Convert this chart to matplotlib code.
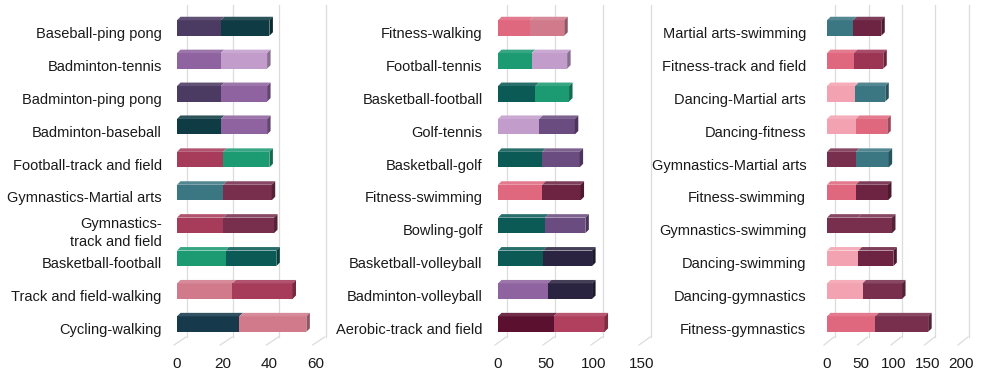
import matplotlib
matplotlib.use("Agg")
import matplotlib.pyplot as plt
from matplotlib.patches import Polygon
import matplotlib.transforms as mtransforms
from matplotlib.colors import to_rgb

plt.rcParams['font.family'] = ['Liberation Sans', 'DejaVu Sans']

# ---------------- data ----------------
cats1 = ["Baseball-ping pong", "Badminton-tennis", "Badminton-ping pong", "Badminton-baseball",
         "Football-track and field", "Gymnastics-Martial arts", "Gymnastics-\ntrack and field",
         "Basketball-football", "Track and field-walking", "Cycling-walking"]
seg1_p1 = [19, 19, 19, 19, 20, 20, 20, 21, 24, 27]
seg2_p1 = [21, 20, 20, 20, 20, 21, 22, 22, 26, 29]

cats2 = ["Fitness-walking", "Football-tennis", "Basketball-football", "Golf-tennis", "Basketball-golf",
         "Fitness-swimming", "Bowling-golf", "Basketball-volleyball", "Badminton-volleyball",
         "Aerobic-track and field"]
seg1_p2 = [33, 35, 39, 43, 46, 46, 49, 47, 52, 58]
seg2_p2 = [36, 37, 35, 37, 39, 40, 42, 51, 46, 53]

cats3 = ["Martial arts-swimming", "Fitness-track and field", "Dancing-Martial arts", "Dancing-fitness",
         "Gymnastics-Martial arts", "Fitness-swimming", "Gymnastics-swimming", "Dancing-swimming",
         "Dancing-gymnastics", "Fitness-gymnastics"]
seg1_p3 = [39, 40, 42, 43, 43, 43, 46, 47, 53, 72]
seg2_p3 = [42, 44, 45, 47, 49, 48, 51, 52, 59, 79]

xticks1 = [0, 20, 40, 60]
xticks2 = [0, 50, 100, 150]
xticks3 = [0, 50, 100, 150, 200]

# ---------------- colours ----------------
DPUR = "#4b3a62"; DTEAL = "#0f3c44"; MPUR = "#8e63a0"; LPUR = "#c29dcc"
CRIM = "#a63c5a"; GREEN = "#1c9a72"; STEEL = "#3b7782"; MAROON = "#782f4e"
TEAL2 = "#0b5a56"; PINK = "#d07a8c"; NAVY = "#163a4c"; PINKRED = "#e0687e"
VIOLET = "#6b4c80"; DNAVY = "#2a2440"; BURG = "#5c1030"; LPINK = "#f2a2b0"
DMAROON = "#6c2442"

col1_p1 = [DPUR, MPUR, DPUR, DTEAL, CRIM, STEEL, CRIM, GREEN, PINK, NAVY]
col2_p1 = [DTEAL, LPUR, MPUR, MPUR, GREEN, MAROON, MAROON, TEAL2, CRIM, PINK]
col1_p2 = [PINKRED, GREEN, TEAL2, LPUR, TEAL2, PINKRED, TEAL2, TEAL2, MPUR, BURG]
col2_p2 = [PINK, LPUR, GREEN, VIOLET, VIOLET, DMAROON, VIOLET, DNAVY, DNAVY, "#b0405e"]
col1_p3 = [STEEL, PINKRED, LPINK, LPINK, MAROON, PINKRED, MAROON, LPINK, LPINK, PINKRED]
col2_p3 = [DMAROON, "#9c3454", STEEL, PINKRED, STEEL, DMAROON, MAROON, DMAROON, MAROON, MAROON]

W, H, DPI = 982, 375, 100
fig = plt.figure(figsize=(W / DPI, H / DPI), dpi=DPI)

def lighten(c, f):
    r, g, b = to_rgb(c)
    return (r + (1 - r) * f, g + (1 - g) * f, b + (1 - b) * f)

def darken(c, f):
    r, g, b = to_rgb(c)
    return (r * (1 - f), g * (1 - f), b * (1 - f))

AX_TOP_PX, AX_BOT_PX = 5, 345
ROW0_PX, ROW_SP = 32.5, 32.9   # label rows
BAR_LIFT_PX = 4.5              # bars sit slightly above their labels

def panel(left_px, width_px, xmax, cats, s1, s2, c1, c2, xticks, grid_dx, label_pad):
    ax = fig.add_axes([left_px / W, (H - AX_BOT_PX) / H, width_px / W, (AX_BOT_PX - AX_TOP_PX) / H])
    n = len(cats)
    top_units = (ROW0_PX - AX_TOP_PX) / ROW_SP
    bot_units = (AX_BOT_PX - ROW0_PX) / ROW_SP
    ax.set_xlim(0, xmax)
    ax.set_ylim(bot_units, -top_units)
    for s in ax.spines.values():
        s.set_visible(False)
    ax.set_facecolor("none")
    ax.set_yticks(range(n))
    ax.set_yticklabels(cats, fontsize=10.5, color="#1a1a1a", multialignment="right",
                       linespacing=1.3)
    ax.set_xticks(xticks)
    ax.set_xticklabels([str(t) for t in xticks], fontsize=11, color="#1a1a1a")
    ax.tick_params(axis="both", length=0)
    ax.tick_params(axis="y", pad=label_pad)
    ax.tick_params(axis="x", pad=9)

    # grid: back vertical lines plus floor diagonals
    axh_px = AX_BOT_PX - AX_TOP_PX
    gdy = 8
    back = mtransforms.blended_transform_factory(
        ax.transData + mtransforms.ScaledTranslation(grid_dx / DPI, 0, fig.dpi_scale_trans),
        ax.transAxes)
    front = mtransforms.blended_transform_factory(ax.transData, ax.transAxes)
    for t in xticks:
        ax.plot([t, t], [gdy / axh_px, 1.0], transform=back, color="#dcdcdc", lw=0.9,
                clip_on=False, zorder=0)
        ax.plot([t - 3 * xmax / width_px, t - 3 * xmax / width_px + (grid_dx + 2) * xmax / width_px],
                [0, gdy / axh_px], transform=front,
                color="#dcdcdc", lw=0.9, clip_on=False, zorder=0)

    # bars with 3D faces
    h = 15.5 / ROW_SP
    ddx = 3.5 * xmax / width_px
    ddy = 3.5 / ROW_SP
    lift = BAR_LIFT_PX / ROW_SP
    for i in range(n):
        yc = i - lift
        segs = [(0, s1[i], c1[i]), (s1[i], s1[i] + s2[i], c2[i])]
        ytop = yc - h / 2
        ybot = yc + h / 2
        for (a, b, c) in segs:
            ax.barh(yc, b - a, left=a, height=h, color=c, edgecolor="none", zorder=3)
            top = Polygon([(a, ytop), (b, ytop), (b + ddx, ytop - ddy), (a + ddx, ytop - ddy)],
                          closed=True, facecolor=lighten(c, 0.12), edgecolor="none", zorder=3,
                          clip_on=False)
            ax.add_patch(top)
        a, b, c = segs[-1]
        side = Polygon([(b, ytop), (b + ddx, ytop - ddy), (b + ddx, ybot - ddy), (b, ybot)],
                       closed=True, facecolor=darken(c, 0.3), edgecolor="none", zorder=3,
                       clip_on=False)
        ax.add_patch(side)
    return ax

panel(177, 138.6, 60, cats1, seg1_p1, seg2_p1, col1_p1, col2_p1, xticks1, 10, 11)
panel(498, 144, 150, cats2, seg1_p2, seg2_p2, col1_p2, col2_p2, xticks2, 9, 11)
panel(827, 134, 200, cats3, seg1_p3, seg2_p3, col1_p3, col2_p3, xticks3, 8, 15)

fig.savefig("out.png", dpi=DPI, facecolor="white")
